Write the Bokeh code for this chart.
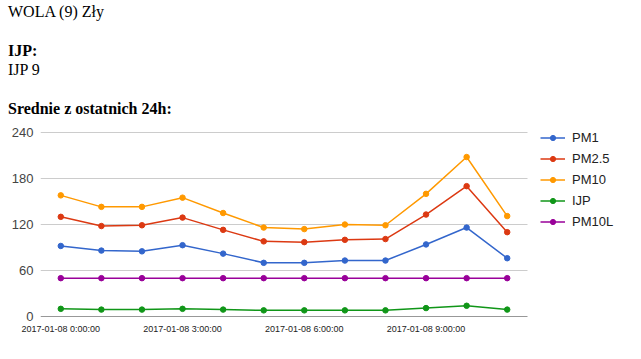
from bokeh.plotting import figure
from bokeh.models import (Range1d, FixedTicker, Legend, LegendItem, ColumnDataSource, Div)
from bokeh.layouts import column
from bokeh.embed import file_html
from bokeh.resources import INLINE

hours = [0, 1, 2, 3, 4, 5, 6, 7, 8, 9, 10, 11]
pm1 = [92, 86, 85, 93, 82, 70, 70, 73, 73, 94, 116, 76]
pm25 = [130, 118, 119, 129, 113, 98, 97, 100, 101, 133, 170, 110]
pm10 = [158, 143, 143, 155, 135, 116, 114, 120, 119, 160, 208, 131]
ijp = [10, 9, 9, 10, 9, 8, 8, 8, 8, 11, 14, 9]
pm10l = [50, 50, 50, 50, 50, 50, 50, 50, 50, 50, 50, 50]
series_names = ["PM1", "PM2.5", "PM10", "IJP", "PM10L"]
series_values = [pm1, pm25, pm10, ijp, pm10l]
colors = ["#3366cc", "#dc3912", "#ff9900", "#109618", "#990099"]
x_ticks = [0, 3, 6, 9]
x_tick_labels = ["2017-01-08 0:00:00", "2017-01-08 3:00:00", "2017-01-08 6:00:00", "2017-01-08 9:00:00"]
y_ticks = [0, 60, 120, 180, 240]

# page geometry (px)
D = 118                       # header height
W, H = 640, 240               # figure size
plot_left, plot_right = 40, 527   # chart area in page px
plot_top, plot_bottom = 132, 316
x_lo, x_hi = -0.5, 11.5
y_lo, y_hi = 0, 240

header = Div(
    text=("<div style=\"font-family:'Liberation Serif',serif;font-size:16px;line-height:19.4px;"
          "color:#000;padding-top:2px;padding-left:8px;\">"
          "WOLA (9) Zły<br><br><b>IJP:</b><br>IJP 9<br><br><b>Srednie z ostatnich 24h:</b></div>"),
    width=630, height=D, margin=0)

xs = (plot_right - plot_left) / (x_hi - x_lo)
ys = (plot_bottom - plot_top) / (y_hi - y_lo)
frame_top = D
x_max = x_lo + (W - plot_left) / xs
y_max = y_lo + (plot_bottom - frame_top) / ys
BB = H - (plot_bottom - D)

p = figure(width=W, height=H, output_backend="svg", toolbar_location=None,
           x_range=Range1d(x_lo, x_max), y_range=Range1d(y_lo, y_max),
           min_border_left=plot_left, min_border_right=0, min_border_top=0, min_border_bottom=BB,
           margin=0)
p.outline_line_color = None
p.background_fill_color = "white"

p.xaxis.ticker = FixedTicker(ticks=x_ticks)
p.xaxis.major_label_overrides = {t: l for t, l in zip(x_ticks, x_tick_labels)}
p.xaxis.major_tick_line_color = None
p.xaxis.major_tick_out = 0
p.xaxis.major_tick_in = 0
p.xaxis.minor_tick_line_color = None
p.xaxis.axis_line_color = None
p.xaxis.major_label_text_font = "Liberation Sans"
p.xaxis.major_label_text_font_size = "9px"
p.xaxis.major_label_text_color = "#222222"
p.xaxis.major_label_standoff = 7
p.xgrid.grid_line_color = None
p.ygrid.grid_line_color = None

p.yaxis.ticker = FixedTicker(ticks=y_ticks)
p.yaxis.major_tick_line_color = None
p.yaxis.major_tick_out = 0
p.yaxis.major_tick_in = 0
p.yaxis.minor_tick_line_color = None
p.yaxis.axis_line_color = None
p.yaxis.major_label_text_font = "Liberation Sans"
p.yaxis.major_label_text_font_size = "13px"
p.yaxis.major_label_text_color = "#444444"
p.yaxis.major_label_standoff = 7

# gridlines limited to the chart area, and baseline
grid_y = [t for t in y_ticks if t != 0]
p.segment(x0=[x_lo] * len(grid_y), x1=[x_hi] * len(grid_y), y0=grid_y, y1=grid_y,
          line_color="#cccccc", line_width=1)
p.segment(x0=[x_lo], x1=[x_hi], y0=[0], y1=[0], line_color="#333333", line_width=1)

items = []
for name, vals, c in zip(series_names, series_values, colors):
    src = ColumnDataSource(dict(x=hours, y=vals))
    r1 = p.line("x", "y", source=src, line_color=c, line_width=1.5)
    r2 = p.scatter("x", "y", source=src, size=5.5, fill_color=c, line_color=c)
    items.append(LegendItem(label=name, renderers=[r1, r2]))

row_h, gap = 15, 6
legend_h = 5 * row_h + 4 * gap
legend_top = 137 - row_h / 2
legend = Legend(items=items, location=(540 - plot_left, plot_bottom - (legend_top + legend_h)),
                orientation="vertical",
                border_line_color=None, background_fill_alpha=0, padding=0, margin=0,
                spacing=gap, glyph_width=25, glyph_height=13, label_height=row_h,
                label_standoff=7, label_text_font="Liberation Sans",
                label_text_font_size="13px", label_text_color="#222222")
p.add_layout(legend, "center")

layout = column(header, p, spacing=0, margin=0)
open("out.html", "w").write(file_html(layout, INLINE))
